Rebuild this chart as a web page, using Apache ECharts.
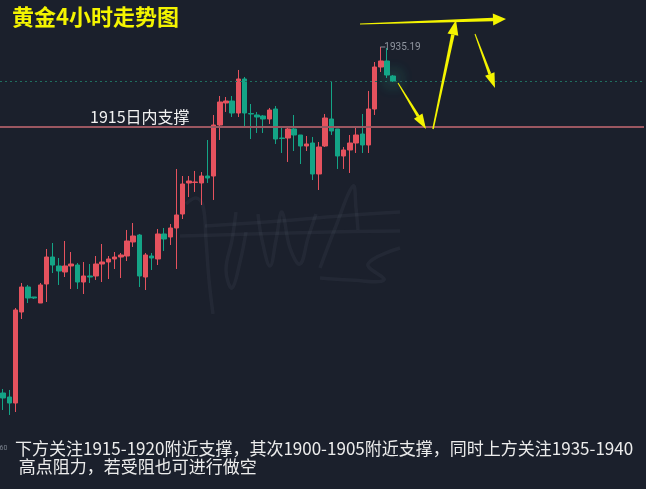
<!DOCTYPE html>
<html>
<head>
<meta charset="utf-8">
<script src="https://cdn.jsdelivr.net/npm/echarts@6/dist/echarts.min.js"></script>
<style>
  html, body { margin: 0; padding: 0; background: #1b202c; }
  #chart { width: 646px; height: 489px; }
</style>
</head>
<body>
<div id="chart"></div>
<script>
// XAUUSD 4-hour candles (open / close / low / high)
const opens = [
  1847.87, 1846.86, 1845.34, 1868.31, 1874.62, 1872.10, 1870.58, 1875.38, 1882.19, 1879.92,
  1878.41, 1879.92, 1880.17, 1875.88, 1877.40, 1877.40, 1880.42, 1880.93, 1881.69, 1882.19,
  1882.44, 1885.98, 1887.74, 1877.14, 1882.44, 1881.69, 1888.00, 1887.24, 1889.51, 1893.04,
  1900.87, 1901.00, 1900.87, 1902.63, 1902.63, 1915.50, 1921.06, 1921.56, 1918.53, 1927.11,
  1918.40, 1918.03, 1917.78, 1917.02, 1919.54, 1912.22, 1912.22, 1914.50, 1912.98, 1910.20,
  1910.96, 1903.14, 1910.20, 1917.02, 1914.50, 1907.68, 1909.20, 1910.96, 1913.23, 1910.46,
  1919.54, 1930.14, 1931.66, 1927.87
];
const closes = [
  1846.61, 1845.34, 1868.82, 1874.62, 1871.84, 1871.84, 1875.13, 1882.19, 1880.17, 1878.66,
  1879.92, 1880.42, 1875.88, 1877.40, 1877.14, 1880.42, 1880.93, 1881.69, 1882.19, 1882.70,
  1886.23, 1887.49, 1877.40, 1882.70, 1881.94, 1888.00, 1886.73, 1889.51, 1892.79, 1900.61,
  1901.37, 1901.12, 1902.63, 1902.13, 1915.50, 1921.31, 1921.56, 1918.53, 1927.11, 1918.53,
  1918.28, 1917.52, 1917.02, 1919.29, 1911.97, 1912.10, 1914.50, 1912.98, 1910.20, 1910.71,
  1903.14, 1909.95, 1917.27, 1913.99, 1907.68, 1909.20, 1910.96, 1912.98, 1910.46, 1919.54,
  1930.14, 1931.66, 1928.12, 1926.61
];
const lows = [
  1843.58, 1842.32, 1843.07, 1866.54, 1870.58, 1871.59, 1870.58, 1870.83, 1878.15, 1875.13,
  1877.14, 1874.12, 1874.12, 1872.85, 1875.63, 1876.39, 1875.88, 1876.64, 1879.16, 1876.89,
  1881.18, 1884.72, 1874.62, 1873.86, 1878.91, 1880.17, 1883.71, 1885.22, 1879.16, 1891.78,
  1897.33, 1898.60, 1895.31, 1900.87, 1896.58, 1911.72, 1918.79, 1917.52, 1917.52, 1915.00,
  1911.97, 1913.49, 1913.49, 1915.76, 1910.71, 1908.44, 1906.17, 1908.94, 1905.66, 1908.94,
  1901.62, 1899.10, 1909.95, 1912.98, 1904.40, 1904.40, 1903.39, 1908.44, 1908.44, 1908.44,
  1918.03, 1928.88, 1927.37, 1926.36
];
const highs = [
  1848.88, 1848.63, 1869.32, 1875.63, 1875.13, 1872.10, 1875.63, 1884.21, 1885.72, 1881.94,
  1886.23, 1883.45, 1880.68, 1880.93, 1880.42, 1882.44, 1885.47, 1882.44, 1883.45, 1883.20,
  1889.01, 1890.77, 1888.00, 1883.20, 1883.20, 1889.26, 1889.51, 1890.52, 1904.40, 1902.63,
  1902.63, 1903.90, 1903.64, 1911.72, 1918.03, 1922.82, 1922.57, 1922.82, 1929.39, 1927.62,
  1920.80, 1918.79, 1918.03, 1919.80, 1920.30, 1915.00, 1914.75, 1918.03, 1912.98, 1912.73,
  1912.48, 1911.21, 1918.28, 1926.61, 1914.50, 1909.95, 1912.98, 1914.75, 1918.28, 1924.09,
  1931.40, 1935.19, 1934.94, 1928.12
];

// Intraday support level and the bottom-edge price tag
const supportLevel = 1915;
const edgePriceTag = '1833.60';

const titleText = '黄金4小时走势图';
const noteLines = [
  '下方关注1915-1920附近支撑，其次1900-1905附近支撑，同时上方关注1935-1940',
  ' 高点阻力，若受阻也可进行做空'
];

// Bar slots: the drawn candles plus empty room on the right for the outlook arrows
const slotCount = 104;
const slots = [];
for (let i = 0; i < slotCount; i++) slots.push('K' + (i + 1));

const UP = '#e5525e';
const DOWN = '#14a486';
const YELLOW = '#f4f400';
const CJK = '"Noto Sans CJK SC", sans-serif';

const candleData = opens.map((o, i) => {
  const item = { value: [o, closes[i], lows[i], highs[i]] };
  if (i === opens.length - 1) {
    item.itemStyle = { shadowBlur: 16, shadowColor: 'rgba(40, 220, 175, 1)' };
  }
  return item;
});
const lastClose = closes[closes.length - 1];

// Tapered hand-drawn style arrow: shaft polygon plus triangular head
function arrow(tail, tip, w0, w1, headLen, headHalf) {
  const dx = tip[0] - tail[0], dy = tip[1] - tail[1];
  const len = Math.hypot(dx, dy);
  const ux = dx / len, uy = dy / len;
  const nx = -uy, ny = ux;
  const bx = tip[0] - ux * headLen, by = tip[1] - uy * headLen;
  const style = { fill: YELLOW };
  return [
    { type: 'polygon', shape: { points: [
      [tail[0] + nx * w0 / 2, tail[1] + ny * w0 / 2],
      [bx + nx * w1 / 2, by + ny * w1 / 2],
      [bx - nx * w1 / 2, by - ny * w1 / 2],
      [tail[0] - nx * w0 / 2, tail[1] - ny * w0 / 2]
    ] }, style, z: 20 },
    { type: 'polygon', shape: { points: [
      tip,
      [bx + nx * headHalf, by + ny * headHalf],
      [bx - nx * headHalf, by - ny * headHalf]
    ] }, style, z: 20 }
  ];
}

// Faint signature watermark strokes
const wmStyle = { stroke: 'rgba(150, 160, 180, 0.065)', lineWidth: 3.5, fill: null };
const watermark = [
  [[186, 204], [196, 198], [203, 206], [206, 240], [209, 280], [213, 314]],
  [[180, 236], [250, 234], [330, 232], [400, 231]],
  [[205, 226], [280, 221], [340, 216], [400, 212]],
  [[236, 212], [232, 240], [226, 270], [232, 288], [240, 262], [246, 232]],
  [[258, 214], [262, 240], [270, 266], [276, 240], [282, 212], [290, 248], [300, 264], [308, 238], [316, 214]],
  [[320, 268], [336, 226], [353, 186], [356, 208], [358, 230]],
  [[320, 278], [350, 280], [384, 280], [368, 264], [400, 248]]
].map(pts => ({ type: 'polyline', shape: { points: pts, smooth: 0.4 }, style: wmStyle, z: 1, silent: true }));

const graphics = [].concat(
  watermark,
  arrow([360, 24], [506, 19], 1, 3.5, 13, 6),
  arrow([433, 129], [456, 20], 1.5, 3.5, 15, 5.5),
  arrow([398, 83], [426, 129], 1, 3, 15, 5),
  arrow([475, 34], [495, 88], 1, 3, 15, 5),
  [
    { type: 'text', left: 12, top: 6, z: 30,
      style: { text: titleText, fill: YELLOW, fontSize: 22, fontWeight: 'bold', fontFamily: CJK } },
    { type: 'text', x: 15, y: 440, z: 30,
      style: { text: noteLines[0], fill: '#ececec', fontSize: 17, fontFamily: CJK } },
    { type: 'text', x: 15, y: 458, z: 30,
      style: { text: noteLines[1], fill: '#ececec', fontSize: 17, fontFamily: CJK } },
    { type: 'text', x: -18, y: 445, z: 30,
      style: { text: edgePriceTag, fill: '#7b818d', fontSize: 7, fontFamily: 'Roboto, sans-serif' } }
  ]
);

const chart = echarts.init(document.getElementById('chart'), null, { renderer: 'canvas' });
chart.setOption({
  animation: false,
  backgroundColor: '#1b202c',
  grid: { left: 0, right: 2, top: 0, bottom: 0 },
  xAxis: {
    type: 'category', data: slots, boundaryGap: true,
    axisLine: { show: false }, axisTick: { show: false }, axisLabel: { show: false },
    splitLine: { show: false }
  },
  yAxis: {
    type: 'value', min: 1823.64, max: 1947.05, scale: true,
    axisLine: { show: false }, axisTick: { show: false }, axisLabel: { show: false },
    splitLine: { show: false }
  },
  series: [{
    type: 'candlestick',
    data: candleData,
    barWidth: 5,
    itemStyle: { color: UP, color0: DOWN, borderColor: UP, borderColor0: DOWN, borderWidth: 1 },
    markLine: {
      silent: true,
      symbol: ['none', 'none'],
      data: [
        {
          yAxis: supportLevel,
          lineStyle: { color: '#9b5761', width: 2, type: 'solid' },
          label: {
            show: true, position: 'insideStartTop', distance: [90, 2],
            formatter: supportLevel + '日内支撑',
            color: '#f2f2f2', fontSize: 16, fontFamily: CJK
          }
        },
        {
          yAxis: lastClose,
          lineStyle: { color: '#1f6e5f', width: 1, type: [2, 3] },
          label: { show: false }
        }
      ]
    },
    markPoint: {
      silent: true,
      symbol: 'rect',
      symbolSize: [5, 1],
      symbolOffset: [2, 0],
      itemStyle: { color: '#8d929c' },
      data: [{ type: 'max', valueDim: 'highest' }],
      label: {
        show: true, position: 'right', distance: -1, offset: [0, 1],
        formatter: p => Number(p.value).toFixed(2),
        color: '#9096a0', fontSize: 10, fontFamily: 'Roboto, sans-serif'
      }
    }
  }],
  graphic: graphics
});
</script>
</body>
</html>
